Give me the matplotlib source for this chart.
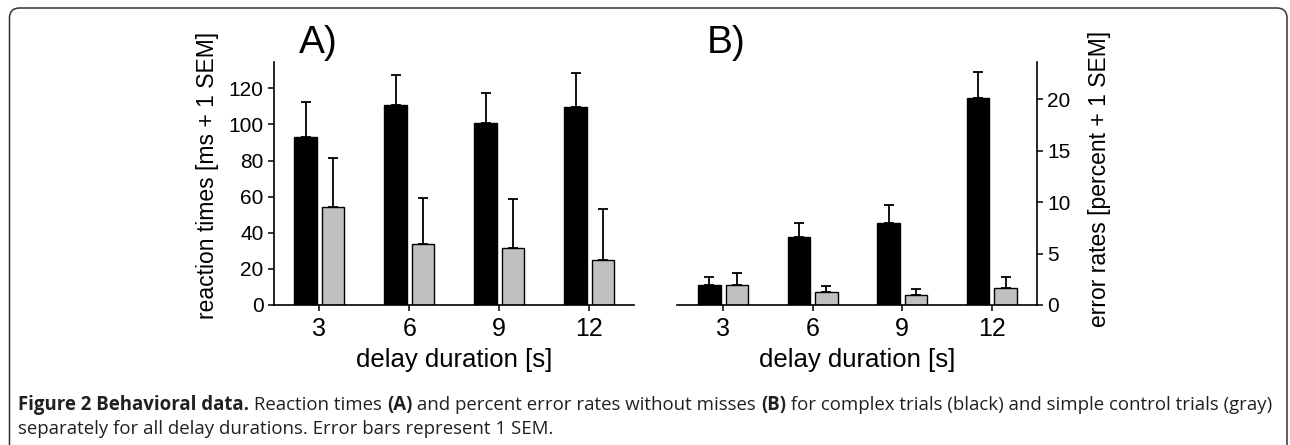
import matplotlib.pyplot as plt
from matplotlib.patches import FancyBboxPatch
import numpy as np

# delay durations [s]
delays = [3, 6, 9, 12]

# A) reaction times [ms]
rt_complex = [93.2, 110.6, 100.8, 109.9]
rt_complex_sem = [19.4, 17.0, 16.7, 18.8]
rt_simple = [54.5, 33.6, 31.4, 24.8]
rt_simple_sem = [27.1, 25.5, 27.3, 28.4]

# B) error rates [percent]
er_complex = [1.94, 6.6, 7.96, 20.1]
er_complex_sem = [0.75, 1.4, 1.74, 2.5]
er_simple = [1.94, 1.26, 0.94, 1.65]
er_simple_sem = [1.13, 0.61, 0.58, 1.04]

W, H = 1290, 445
plt.rcParams['font.family'] = ['Liberation Sans', 'DejaVu Sans']

fig = plt.figure(figsize=(W / 100, H / 100), dpi=100)

GRAY = '#c0c0c0'
bw = 0.75
off = 0.46


def px_axes(x0, x1, ytop, ybot):
    return fig.add_axes([x0 / W, 1 - ybot / H, (x1 - x0) / W, (ybot - ytop) / H])


def draw_bars(ax, black, black_err, gray, gray_err):
    x = np.array(delays, dtype=float)
    ekw = dict(elinewidth=1.3, capsize=3.5, capthick=1.3, ecolor='black')
    ax.bar(x - off, black, bw, color='black', edgecolor='black', linewidth=1,
           yerr=[np.zeros(4), black_err], error_kw=ekw, zorder=2)
    ax.bar(x + off, gray, bw, color=GRAY, edgecolor='black', linewidth=1,
           yerr=[np.zeros(4), gray_err], error_kw=ekw, zorder=2)
    ax.set_xticks(delays)
    ax.set_xticklabels([str(d) for d in delays])
    ax.tick_params(axis='both', labelsize=15, length=4, width=1.1, direction='out')
    ax.tick_params(axis='x', labelsize=18, pad=5)
    ax.set_xlabel('delay duration [s]', fontsize=18.5)
    ax.xaxis.set_label_coords(0.5, -0.175)
    for s in ax.spines.values():
        s.set_linewidth(1.2)


# panel A
axA = px_axes(274, 634, 62, 305)
draw_bars(axA, rt_complex, rt_complex_sem, rt_simple, rt_simple_sem)
axA.set_xlim(1.49, 13.49)
axA.set_ylim(0, 134.6)
axA.set_yticks([0, 20, 40, 60, 80, 100, 120])
axA.spines['top'].set_visible(False)
axA.spines['right'].set_visible(False)
axA.set_ylabel('reaction times [ms + 1 SEM]', fontsize=16.5)
axA.yaxis.set_label_coords(-0.153, 0.535)
fig.text(299 / W, 1 - 43 / H, 'A)', fontsize=28, va='center', ha='left')

# panel B
axB = px_axes(677, 1037, 62, 305)
draw_bars(axB, er_complex, er_complex_sem, er_simple, er_simple_sem)
axB.set_xlim(1.456, 13.51)
axB.set_ylim(0, 23.6)
axB.set_yticks([0, 5, 10, 15, 20])
axB.spines['top'].set_visible(False)
axB.spines['left'].set_visible(False)
axB.yaxis.tick_right()
axB.yaxis.set_label_position('right')
axB.set_ylabel('error rates [percent + 1 SEM]', fontsize=16.5)
axB.yaxis.set_label_coords(1.142, 0.52)
fig.text(707 / W, 1 - 43 / H, 'B)', fontsize=28, va='center', ha='left')

# rounded frame around figure and caption
frame = FancyBboxPatch((9.5, -30), 1277.5, H - 8 + 30,
                       boxstyle='round,pad=0,rounding_size=10',
                       transform=None, fill=False, edgecolor='#333333',
                       linewidth=1.1)
fig.patches.append(frame)

# caption, pieces laid out one after another on a shared baseline
cap_font = ['Open Sans', 'DejaVu Sans']
cap_size = 13.4
renderer = fig.canvas.get_renderer()


def caption_line(x, y, parts):
    for txt, wt in parts:
        t = fig.text(x / W, 1 - y / H, txt, fontsize=cap_size, fontweight=wt,
                     family=cap_font, va='baseline', ha='left', color='#231f20')
        x += t.get_window_extent(renderer).width


caption_line(18, 410, [
    ('Figure 2 Behavioral data.', 'bold'),
    (' Reaction times ', 'normal'),
    ('(A)', 'bold'),
    (' and percent error rates without misses ', 'normal'),
    ('(B)', 'bold'),
    (' for complex trials (black) and simple control trials (gray)', 'normal'),
])
caption_line(18, 434, [
    ('separately for all delay durations. Error bars represent 1 SEM.', 'normal'),
])

fig.savefig('out.png', dpi=100)
